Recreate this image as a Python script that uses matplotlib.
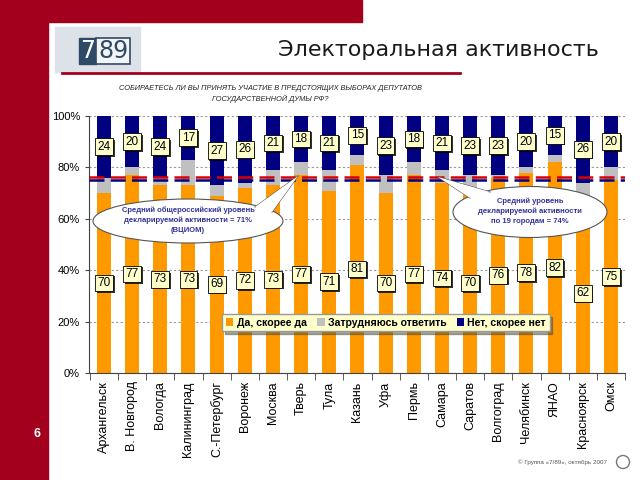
import matplotlib
matplotlib.use("Agg")
import matplotlib.pyplot as plt
import matplotlib.patheffects as pe
from matplotlib.patches import Rectangle, Ellipse, Polygon
from matplotlib.lines import Line2D
import numpy as np

plt.rcParams['font.family'] = ['Liberation Sans', 'DejaVu Sans']

# data
cities = ['Архангельск', 'В. Новгород', 'Вологда', 'Калининград', 'С.-Петербург',
          'Воронеж', 'Москва', 'Тверь', 'Тула', 'Казань', 'Уфа', 'Пермь',
          'Самара', 'Саратов', 'Волгоград', 'Челябинск', 'ЯНАО', 'Красноярск', 'Омск']
yes = [70, 77, 73, 73, 69, 72, 73, 77, 71, 81, 70, 77, 74, 70, 76, 78, 82, 62, 75]
no = [24, 20, 24, 17, 27, 26, 21, 18, 21, 15, 23, 18, 21, 23, 23, 20, 15, 26, 20]
unsure = [100 - y - n for y, n in zip(yes, no)]
series_names = ['Да, скорее да', 'Затрудняюсь ответить', 'Нет, скорее нет']
yticks = [0, 20, 40, 60, 80, 100]
# dashed reference lines (as drawn in the picture)
russia_line = 76.1
cities_line = 75.1

ORANGE = '#FF9900'
GRAY = '#C0C0C0'
NAVY = '#000080'
RED = '#A3001E'


# pixel helpers (picture is 640x480)
def fx(x):
    return x / 640


def fy(y):
    return 1 - y / 480


fig = plt.figure(figsize=(6.4, 4.8), dpi=100)

# slide decoration
fig.patches.append(Rectangle((0, fy(22)), fx(362), 22 / 480, color=RED,
                             transform=fig.transFigure, zorder=0))
fig.patches.append(Rectangle((0, 0), fx(48), 1, color=RED,
                             transform=fig.transFigure, zorder=0))
fig.lines.append(Line2D([fx(62), fx(460)], [fy(73), fy(73)], color=RED, lw=2,
                        transform=fig.transFigure))

# logo
fig.patches.append(Rectangle((fx(55), fy(72)), 85 / 640, 45 / 480, color='#DDE2E8',
                             transform=fig.transFigure, zorder=0))
fig.patches.append(Rectangle((fx(79), fy(64)), 17 / 640, 26 / 480, fc='#2F4A66',
                             ec='#2F4A66', transform=fig.transFigure))
fig.patches.append(Rectangle((fx(96), fy(64)), 34 / 640, 26 / 480, fc='#F2F4F6',
                             ec='#2F4A66', lw=1.2, transform=fig.transFigure))
fig.text(fx(87.5), fy(51), '7', color='white', fontsize=17, ha='center', va='center',
         family='DejaVu Sans')
fig.text(fx(113), fy(51), '89', color='#2F4A66', fontsize=17, ha='center', va='center',
         family='DejaVu Sans')

fig.text(fx(278), fy(50), 'Электоральная активность', fontsize=16, ha='left',
         va='center', color='#1a1a1a', family='DejaVu Sans')
fig.text(fx(270), fy(88), 'СОБИРАЕТЕСЬ ЛИ ВЫ ПРИНЯТЬ УЧАСТИЕ В ПРЕДСТОЯЩИХ ВЫБОРАХ ДЕПУТАТОВ',
         fontsize=5.3, style='italic', ha='center', va='center', color='#222222')
fig.text(fx(270), fy(99), 'ГОСУДАРСТВЕННОЙ ДУМЫ РФ?',
         fontsize=5.3, style='italic', ha='center', va='center', color='#222222')
fig.text(fx(37), fy(434), '6', color='white', fontsize=9, weight='bold',
         ha='center', va='center')
fig.text(fx(562), fy(462), '© Группа «7/89», октябрь 2007', fontsize=4.5,
         color='#555555', ha='center', va='center')
fig.patches.append(Ellipse((fx(623), fy(462)), 13 / 640, 13 / 480, fc='white',
                           ec='#777777', lw=1, transform=fig.transFigure))

# chart
ax = fig.add_axes([fx(89), fy(373), (625 - 89) / 640, (373 - 116) / 480])
x = np.arange(len(cities))
bottom2 = [a + b for a, b in zip(yes, unsure)]
ax.bar(x, yes, 0.5, color=ORANGE, label=series_names[0], zorder=2)
ax.bar(x, unsure, 0.5, bottom=yes, color=GRAY, label=series_names[1], zorder=2)
ax.bar(x, no, 0.5, bottom=bottom2, color=NAVY, label=series_names[2], zorder=2)

ax.set_xlim(-0.53, len(cities) - 0.5)
ax.set_ylim(0, 100)
ax.set_yticks(yticks)
ax.set_yticklabels([f'{v}%' for v in yticks], fontsize=8)
ax.set_xticks(x)
ax.set_xticklabels(cities, rotation=90, fontsize=9)
ax.set_xticks(np.arange(-0.5, len(cities)), minor=True)
ax.tick_params(axis='x', which='major', length=0, pad=6)
ax.tick_params(axis='x', which='minor', length=5, color='#444444')
ax.tick_params(axis='y', length=3, color='#444444')
for s in ['top', 'right']:
    ax.spines[s].set_visible(False)
for s in ['left', 'bottom']:
    ax.spines[s].set_color('#444444')
ax.yaxis.grid(True, linestyle=(0, (2, 2)), color='#999999', lw=0.8)
ax.set_axisbelow(True)

# dashed average lines
ax.axhline(russia_line, color='#DD0000', lw=1.8, dashes=(6, 2.5), zorder=4)
ax.axhline(cities_line, color=NAVY, lw=1.8, dashes=(6, 2.5), zorder=4)

# value labels
for i in range(len(cities)):
    for val, ypos in [(yes[i], yes[i] / 2), (no[i], 100 - no[i] / 2)]:
        t = ax.text(i, ypos, str(val), ha='center', va='center', fontsize=8.5,
                    zorder=5,
                    bbox=dict(boxstyle='square,pad=0.2', fc='#FFFFCC', ec='black', lw=0.6))
        t.get_bbox_patch().set_path_effects([
            pe.SimplePatchShadow(offset=(1.2, -1.2), shadow_rgbFace='black', alpha=0.8),
            pe.Normal()])

leg = ax.legend(loc='center', bbox_to_anchor=(fx(386), fy(322.5)),
                bbox_transform=fig.transFigure, ncol=3,
                prop={'weight': 'bold', 'size': 7.6}, facecolor='#FFFFCC',
                edgecolor='#999999', framealpha=1, fancybox=False,
                handlelength=0.7, handleheight=0.7, handletextpad=0.3,
                columnspacing=1.0, borderpad=0.35, shadow=True)
leg.set_zorder(6)


# callouts
def callout(cx, cy, w, h, base1, base2, tip, text):
    fig.patches.append(Ellipse((fx(cx), fy(cy)), w / 640, h / 480, fc='white',
                               ec='#555555', lw=0.8, transform=fig.transFigure,
                               zorder=7))
    pts = [(fx(base1[0]), fy(base1[1])), (fx(tip[0]), fy(tip[1])),
           (fx(base2[0]), fy(base2[1]))]
    fig.patches.append(Polygon(pts, closed=True, fc='white', ec='none',
                               transform=fig.transFigure, zorder=8))
    fig.lines.append(Line2D([p[0] for p in pts], [p[1] for p in pts], color='#555555',
                            lw=0.8, transform=fig.transFigure, zorder=8))
    fig.text(fx(cx), fy(cy - 1), text, ha='center', va='center', fontsize=5.5,
             color='#333399', weight='bold', linespacing=1.5, zorder=9)


callout(188, 221, 190, 44, (255, 207), (272, 212), (298, 176),
        'Средний общероссийский уровень\nдекларируемой активности = 71%\n(ВЦИОМ)')
callout(530, 212, 154, 51, (470, 198), (490, 192), (438, 177),
        'Средний уровень\nдекларируемой активности\nпо 19 городам = 74%')

fig.savefig('out.png', dpi=100)
